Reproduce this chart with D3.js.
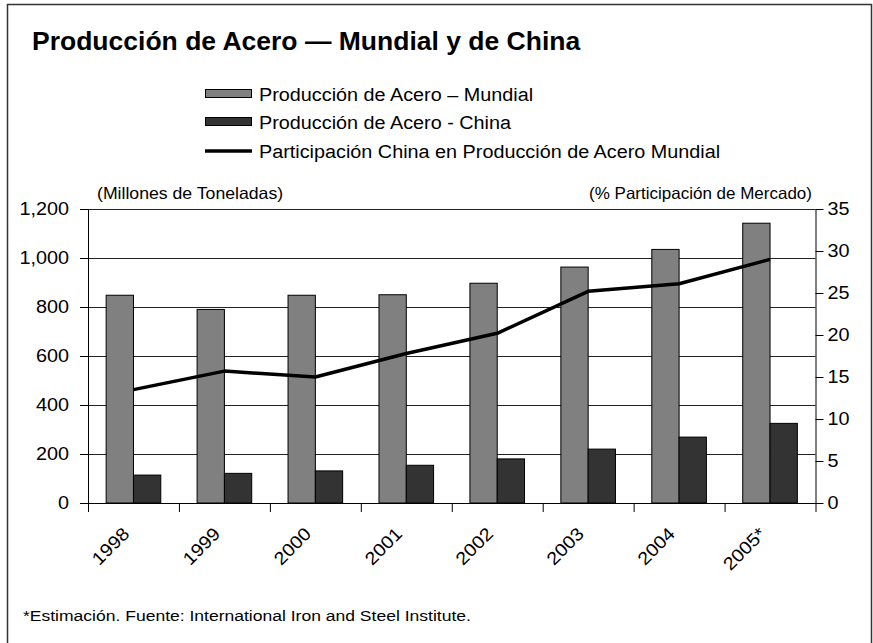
<!DOCTYPE html>
<html>
<head>
<meta charset="utf-8">
<script src="https://cdn.jsdelivr.net/npm/d3@7"></script>
<style>
body{margin:0;background:#fff}
text{font-family:"Liberation Sans",Arial,sans-serif;fill:#000}
</style>
</head>
<body>
<div id="chartDiv"></div>
<script>
//---data---
var Years=["1998","1999","2000","2001","2002","2003","2004","2005*"]
var WorldSteel=[848,790,848,850,897,963,1035,1142]   //---millones de toneladas---
var ChinaSteel=[114,121,131,154,180,220,269,325]
var ChinaShare=[13.5,15.7,15.0,17.8,20.2,25.2,26.1,29.0] //---% participacion---
var LeftTicks=[0,200,400,600,800,1000,1200]
var RightTicks=[0,5,10,15,20,25,30,35]
var SeriesKeys=["world","china"]
var LegendNames=["Producción de Acero – Mundial","Producción de Acero - China","Participación China en Producción de Acero Mundial"]

var Width=873
var Height=643
var PlotLeft=88
var PlotRight=815.5
var PlotTop=209
var PlotBottom=503

//---the source text is a bit wider than Arial: stretch it sideways---
function stretchText(sel,k)
{
    sel.each(function(){
        d3.select(this)
        .attr("textLength",this.getComputedTextLength()*k)
        .attr("lengthAdjust","spacingAndGlyphs")
    })
}

var ChartSVG=d3.select("#chartDiv").append("svg")
    .attr("width",Width)
    .attr("height",Height)
    .attr("viewBox","0 0 "+Width+" "+Height)

ChartSVG.append("rect")
    .attr("width",Width).attr("height",Height)
    .attr("fill","#fff")

//---outer frame, bottom runs off the picture---
ChartSVG.append("rect")
    .attr("x",7.5).attr("y",4.5)
    .attr("width",864).attr("height",700)
    .attr("fill","none")
    .attr("stroke","#333")
    .attr("stroke-width",1.5)

ChartSVG.append("text")
    .attr("x",32).attr("y",50)
    .attr("font-size","25px")
    .attr("font-weight","bold")
    .text("Producción de Acero — Mundial y de China")
    .call(stretchText,1.06)

//---scales---
var X=d3.scaleBand().domain(Years).range([PlotLeft,PlotRight]).padding(0)
var XSub=d3.scaleBand().domain(SeriesKeys).range([0,X.bandwidth()]).paddingInner(0).paddingOuter(0.665)
var XEdge=d3.scaleLinear().domain([0,Years.length]).range([PlotLeft,PlotRight])
var YLeft=d3.scaleLinear().domain([0,1200]).range([PlotBottom,PlotTop])
var YRight=d3.scaleLinear().domain([0,35]).range([PlotBottom,PlotTop])

//---gridlines---
var GridG=ChartSVG.append("g").attr("id","gridG")
GridG.selectAll("line").data(LeftTicks.slice(1)).join("line")
    .attr("x1",PlotLeft).attr("x2",PlotRight)
    .attr("y1",function(d){return Math.round(YLeft(d))+.5})
    .attr("y2",function(d){return Math.round(YLeft(d))+.5})
    .attr("stroke","#222")
    .attr("stroke-width",1)

//---bars---
var BarG=ChartSVG.append("g").attr("id","barG")
BarG.selectAll(".world").data(WorldSteel).join("rect")
    .attr("class","world")
    .attr("x",function(d,i){return X(Years[i])+XSub("world")})
    .attr("y",function(d){return YLeft(d)})
    .attr("width",XSub.bandwidth())
    .attr("height",function(d){return PlotBottom-YLeft(d)})
    .attr("fill","#808080")
    .attr("stroke","#000")
    .attr("stroke-width",1)
BarG.selectAll(".china").data(ChinaSteel).join("rect")
    .attr("class","china")
    .attr("x",function(d,i){return X(Years[i])+XSub("china")})
    .attr("y",function(d){return YLeft(d)})
    .attr("width",XSub.bandwidth())
    .attr("height",function(d){return PlotBottom-YLeft(d)})
    .attr("fill","#333")
    .attr("stroke","#000")
    .attr("stroke-width",1)

//---axes---
var LeftAxis=ChartSVG.append("g")
    .attr("transform","translate("+PlotLeft+",0)")
    .call(d3.axisLeft(YLeft).tickValues(LeftTicks).tickSize(8).tickSizeOuter(0).tickPadding(11).tickFormat(d3.format(",")))
var RightAxis=ChartSVG.append("g")
    .attr("transform","translate("+PlotRight+",0)")
    .call(d3.axisRight(YRight).tickValues(RightTicks).tickSize(8).tickSizeOuter(0).tickPadding(4))
var BottomAxis=ChartSVG.append("g")
    .attr("transform","translate(0,"+PlotBottom+")")
    .call(d3.axisBottom(XEdge).tickValues(d3.range(0,Years.length+1)).tickSize(9).tickSizeOuter(0).tickFormat(""))

ChartSVG.selectAll(".domain").attr("stroke","#000")
ChartSVG.selectAll(".tick line").attr("stroke","#000")
ChartSVG.selectAll(".tick text")
    .attr("font-family","Liberation Sans, Arial, sans-serif")
    .attr("font-size","18px")
    .attr("fill","#000")
    .call(stretchText,1.1)

//---x labels, rotated---
var XLabelG=ChartSVG.append("g").attr("id","xLabelG")
XLabelG.selectAll("text").data(Years).join("text")
    .attr("transform",function(d){return "translate("+(X(d)+X.bandwidth()/2-3)+",535) rotate(-45)"})
    .attr("text-anchor","end")
    .attr("font-size","18px")
    .text(function(d){return d})
    .call(stretchText,1.1)

//---share line---
var ShareLine=d3.line()
    .x(function(d,i){return X(Years[i])+X.bandwidth()/2})
    .y(function(d){return YRight(d)})
ChartSVG.append("path")
    .datum(ChinaShare)
    .attr("d",ShareLine)
    .attr("fill","none")
    .attr("stroke","#000")
    .attr("stroke-width",3.5)
    .attr("stroke-linejoin","round")

//---axis titles---
ChartSVG.append("text")
    .attr("x",97).attr("y",199)
    .attr("font-size","16.5px")
    .text("(Millones de Toneladas)")
    .call(stretchText,1.07)
ChartSVG.append("text")
    .attr("x",812).attr("y",199)
    .attr("text-anchor","end")
    .attr("font-size","16.5px")
    .text("(% Participación de Mercado)")
    .call(stretchText,1.03)

//---legend---
var LegendG=ChartSVG.append("g").attr("id","legendG")
var LegendRows=[{y:89,fill:"#808080"},{y:117,fill:"#333"},{y:151,fill:null}]
LegendRows.forEach(function(r,i){
    if(r.fill)
    {
        LegendG.append("rect")
        .attr("x",205.5).attr("y",r.y+.5)
        .attr("width",46).attr("height",8)
        .attr("fill",r.fill)
        .attr("stroke","#000")
    }
    else
    {
        LegendG.append("line")
        .attr("x1",205).attr("x2",252)
        .attr("y1",r.y).attr("y2",r.y)
        .attr("stroke","#000")
        .attr("stroke-width",3.5)
    }
    LegendG.append("text")
    .attr("x",259)
    .attr("y",i<2?r.y+12:r.y+6.5)
    .attr("font-size","18px")
    .text(LegendNames[i])
    .call(stretchText,1.1)
})

ChartSVG.append("text")
    .attr("x",23).attr("y",621)
    .attr("font-size","15.5px")
    .text("*Estimación. Fuente: International Iron and Steel Institute.")
    .call(stretchText,1.13)
</script>
</body>
</html>
